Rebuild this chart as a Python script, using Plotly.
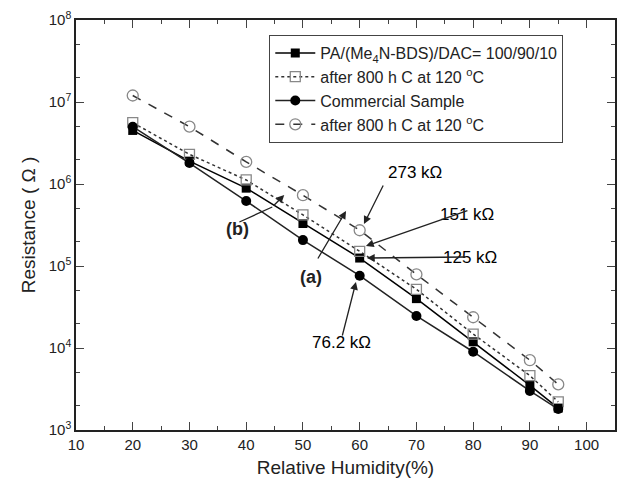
import plotly.graph_objects as go

# ---- data ----
rh = [20, 30, 40, 50, 60, 70, 80, 90, 95]
pa_fresh = [4.5e6, 1.9e6, 8.9e5, 3.3e5, 1.25e5, 4.0e4, 1.19e4, 3.5e3, 1.85e3]
pa_aged = [5.6e6, 2.3e6, 1.12e6, 4.2e5, 1.51e5, 5.2e4, 1.48e4, 4.6e3, 2.2e3]
com_fresh = [5.0e6, 1.8e6, 6.2e5, 2.07e5, 7.62e4, 2.46e4, 9.0e3, 3.0e3, 1.8e3]
com_aged = [1.2e7, 5.0e6, 1.86e6, 7.3e5, 2.73e5, 7.9e4, 2.37e4, 7.1e3, 3.6e3]

names = ["PA/(Me<sub>4</sub>N-BDS)/DAC= 100/90/10",
         "after 800 h C at 120 <sup>o</sup>C",
         "Commercial Sample",
         "after 800 h C at 120 <sup>o</sup>C"]

x_ticks = [10, 20, 30, 40, 50, 60, 70, 80, 90, 100]
y_ticks = [1e3, 1e4, 1e5, 1e6, 1e7, 1e8]
y_ticktext = ["10<sup>3</sup>", "10<sup>4</sup>", "10<sup>5</sup>",
              "10<sup>6</sup>", "10<sup>7</sup>", "10<sup>8</sup>"]

FONT = "Arial, Liberation Sans, sans-serif"
W, H = 626, 484
ML, MR, MT, MB = 76, 9, 20, 54
PW, PH = W - ML - MR, H - MT - MB


def px(x):
    return (x - ML) / PW


def py(y):
    return (H - MB - y) / PH


fig = go.Figure()
fig.add_trace(go.Scatter(x=rh, y=pa_fresh, name=names[0], mode="lines+markers",
                         line=dict(color="black", width=1.5),
                         marker=dict(symbol="square", size=9, color="black")))
fig.add_trace(go.Scatter(x=rh, y=pa_aged, name=names[1], mode="lines+markers",
                         line=dict(color="#333", width=1.5, dash="dot"),
                         marker=dict(symbol="square-open", size=10, color="#888",
                                     line=dict(width=1.3))))
fig.add_trace(go.Scatter(x=rh, y=com_fresh, name=names[2], mode="lines+markers",
                         line=dict(color="#222", width=1.5),
                         marker=dict(symbol="circle", size=10, color="black")))
fig.add_trace(go.Scatter(x=rh, y=com_aged, name=names[3], mode="lines+markers",
                         line=dict(color="#333", width=1.5, dash="dash"),
                         marker=dict(symbol="circle-open", size=11, color="#888",
                                     line=dict(width=1.3))))

annots = []
# value labels with arrows: (text, text_x, text_y, head_x, head_y, tail_x, tail_y)
labels = [
    ("273 kΩ", 416, 172, 365, 224, 385, 184),
    ("151 kΩ", 498, 214, 367, 246, 470, 210),
    ("125 kΩ", 501, 257, 368, 258, 468, 257),
    ("76.2 kΩ", 342, 354, 357, 282, 343, 337),
]
for t, tx, ty, hx, hy, sx, sy in labels:
    annots.append(dict(x=px(tx), y=py(ty), xref="paper", yref="paper", text=t,
                       showarrow=False, font=dict(size=17, family=FONT, color="black")))
    annots.append(dict(x=px(hx), y=py(hy), xref="paper", yref="paper", text="",
                       showarrow=True, arrowhead=2, arrowsize=1.2, arrowwidth=1.3,
                       arrowcolor="#222", ax=sx - hx, ay=sy - hy, axref="pixel", ayref="pixel"))

# (a)
annots.append(dict(x=px(312), y=py(277), xref="paper", yref="paper", text="<b>(a)</b>",
                   showarrow=False, font=dict(size=18, family=FONT, color="#222")))
annots.append(dict(x=px(347), y=py(211), xref="paper", yref="paper", text="",
                   showarrow=True, arrowhead=2, arrowsize=1.2, arrowwidth=1.3,
                   arrowcolor="#222", ax=318 - 347, ay=260 - 211))
# (b)
annots.append(dict(x=px(225), y=py(229), xref="paper", yref="paper", text="<b>(b)</b>",
                   showarrow=False, font=dict(size=18, family=FONT, color="#222")))
annots.append(dict(x=px(285), y=py(195), xref="paper", yref="paper", text="",
                   showarrow=True, arrowhead=2, arrowsize=1.2, arrowwidth=1.3,
                   arrowcolor="#222", ax=273 - 285, ay=207 - 195))

shapes = [dict(type="line", xref="paper", yref="paper",
               x0=px(240), y0=py(222), x1=px(273), y1=py(207),
               line=dict(color="#222", width=1.3))]

fig.update_layout(
    width=W, height=H,
    margin=dict(l=ML, r=MR, t=MT, b=MB),
    paper_bgcolor="white", plot_bgcolor="white",
    font=dict(family=FONT, color="#222", size=15),
    showlegend=True,
    legend=dict(x=px(270), y=py(35), xanchor="left", yanchor="top",
                bordercolor="#444", borderwidth=1, bgcolor="white",
                font=dict(size=16, family=FONT, color="#222"),
                itemwidth=40, tracegroupgap=0),
    annotations=annots,
    shapes=shapes,
)

fig.update_xaxes(range=[10, 105], tickvals=x_ticks, ticks="inside", ticklen=8,
                 tickwidth=1.3, showgrid=False, zeroline=False,
                 showline=True, linecolor="#222", linewidth=1.5, mirror="ticks",
                 minor=dict(ticks="inside", ticklen=4, dtick=5, tickwidth=1.2, showgrid=False),
                 tickfont=dict(size=15, family=FONT),
                 title=dict(text="Relative Humidity(%)", font=dict(size=19, family=FONT),
                            standoff=9))
fig.update_yaxes(type="log", range=[3, 8], tickvals=y_ticks, ticktext=y_ticktext,
                 ticks="inside", ticklen=8, tickwidth=1.3, showgrid=False, zeroline=False,
                 showline=True, linecolor="#222", linewidth=1.5, mirror="ticks",
                 minor=dict(ticks="inside", ticklen=4, tickwidth=1, showgrid=False),
                 tickfont=dict(size=15, family=FONT),
                 title=dict(text="Resistance ( Ω )", font=dict(size=19, family=FONT),
                            standoff=8))

fig.write_html("out.html")
